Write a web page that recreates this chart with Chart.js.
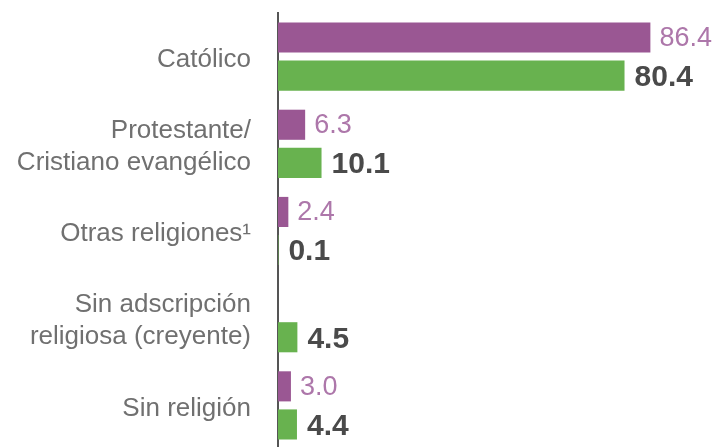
<!DOCTYPE html>
<html>
<head>
<meta charset="utf-8">
<script src="https://cdn.jsdelivr.net/npm/chart.js@4/dist/chart.umd.min.js"></script>
<style>
  html, body { margin: 0; padding: 0; background: #ffffff; overflow: hidden; }
  #wrap { position: relative; width: 721px; height: 449px; }
</style>
</head>
<body>
<div id="wrap"><canvas id="c"></canvas></div>
<script>
const categories = [
  'Católico',
  ['Protestante/', 'Cristiano evangélico'],
  'Otras religiones¹',
  ['Sin adscripción', 'religiosa (creyente)'],
  'Sin religión'
];
const seriesPurple = [86.4, 6.3, 2.4, null, 3.0];
const seriesGreen = [80.4, 10.1, 0.1, 4.5, 4.4];

const purple = '#9a5793';
const green = '#68b24f';

const valueLabels = {
  id: 'valueLabels',
  afterDatasetsDraw(chart) {
    const ctx = chart.ctx;
    chart.data.datasets.forEach((ds, di) => {
      const meta = chart.getDatasetMeta(di);
      meta.data.forEach((el, i) => {
        const v = ds.data[i];
        if (v === null || v === undefined) return;
        ctx.save();
        ctx.textAlign = 'left';
        ctx.textBaseline = 'middle';
        if (di === 0) {
          ctx.font = '27px "Liberation Sans", Arial, sans-serif';
          ctx.fillStyle = '#ad77aa';
          ctx.fillText(v.toFixed(1), el.x + 9, el.y + 1);
        } else {
          ctx.font = 'bold 30px "Liberation Sans", Arial, sans-serif';
          ctx.fillStyle = '#4a4a4a';
          ctx.fillText(v.toFixed(1), el.x + 10, el.y + 2);
        }
        ctx.restore();
      });
    });
  }
};

new Chart(document.getElementById('c'), {
  type: 'bar',
  data: {
    labels: categories,
    datasets: [
      { data: seriesPurple, backgroundColor: purple, borderWidth: 0,
        categoryPercentage: 0.874, barPercentage: 0.79 },
      { data: seriesGreen, backgroundColor: green, borderWidth: 0,
        categoryPercentage: 0.874, barPercentage: 0.79 }
    ]
  },
  options: {
    indexAxis: 'y',
    responsive: true,
    maintainAspectRatio: false,
    animation: false,
    events: [],
    layout: { padding: { top: 13, bottom: 0, left: 0, right: 12 } },
    plugins: { legend: { display: false }, tooltip: { enabled: false } },
    scales: {
      x: { display: false, min: 0, max: 100 },
      y: {
        grid: { display: false, drawTicks: false },
        border: { display: true, color: '#555555', width: 2 },
        ticks: {
          color: '#707070',
          padding: 27,
          labelOffset: 3,
          font: { family: '"Liberation Sans", Arial, sans-serif', size: 26, lineHeight: 1.23 }
        },
        afterFit(scale) {
          scale.width = 278;
          scale.paddingTop = 0;
          scale.paddingBottom = 0;
        }
      }
    }
  },
  plugins: [valueLabels]
});
</script>
</body>
</html>
